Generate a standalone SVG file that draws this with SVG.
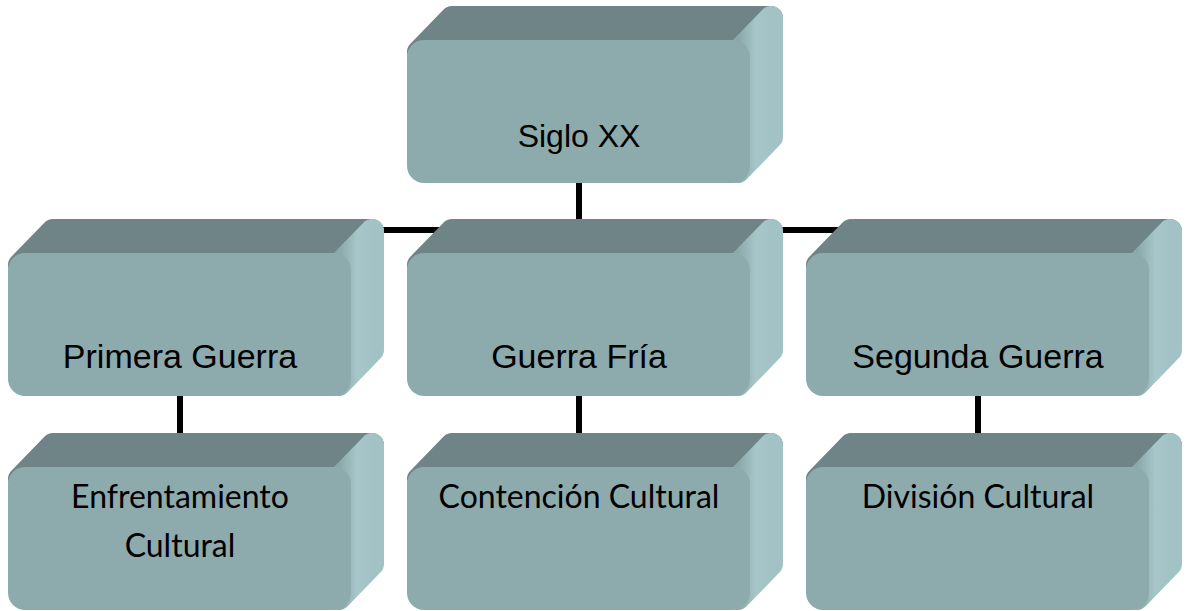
<svg xmlns="http://www.w3.org/2000/svg" width="1189" height="611" viewBox="0 0 1189 611">
<defs>
<style>
.top{fill:#6F8486;stroke:#6F8486;stroke-width:24;stroke-linejoin:round}
.side{fill:url(#sideG);stroke:url(#sideG);stroke-width:24;stroke-linejoin:round}
.front{fill:#8DABAD}
.t1{font-family:"Liberation Sans",Arial,sans-serif;fill:#000;text-anchor:middle}
.t2{font-family:Lato,"Open Sans",sans-serif;fill:#000;text-anchor:middle;font-size:32px}
.conn{stroke:#000;stroke-width:6;fill:none}
</style>
<linearGradient id="sideG" x1="0" y1="0" x2="1" y2="0">
<stop offset="0" stop-color="#8AA8AA"/>
<stop offset="0.55" stop-color="#A7C6C9"/>
<stop offset="1" stop-color="#A3C2C5"/>
</linearGradient>
<g id="box">
<polygon class="top" points="12,12 45,-22 364,-22 331,12"/>
<polygon class="side" points="331,12 364,-22 364,97 331,131"/>
<rect class="front" x="0" y="0" width="343" height="143" rx="17"/>
</g>
</defs>
<g id="connectors">
<line class="conn" x1="579" y1="183" x2="579" y2="230"/>
<line class="conn" x1="180" y1="230" x2="978" y2="230"/>
<line class="conn" x1="180" y1="396" x2="180" y2="467"/>
<line class="conn" x1="579" y1="396" x2="579" y2="467"/>
<line class="conn" x1="978" y1="396" x2="978" y2="467"/>
</g>
<g id="siglo">
<use href="#box" x="407" y="40"/>
<text class="t1" x="579" y="147" font-size="32">Siglo XX</text>
</g>
<g id="primera">
<use href="#box" x="8" y="253"/>
<text class="t1" x="180" y="368" font-size="34">Primera Guerra</text>
</g>
<g id="fria">
<use href="#box" x="407" y="253"/>
<text class="t1" x="579" y="368" font-size="34">Guerra Fría</text>
</g>
<g id="segunda">
<use href="#box" x="806" y="253"/>
<text class="t1" x="978" y="368" font-size="34">Segunda Guerra</text>
</g>
<g id="enfrentamiento">
<use href="#box" x="8" y="467"/>
<text class="t2" x="180" y="508">Enfrentamiento</text>
<text class="t2" x="180" y="557">Cultural</text>
</g>
<g id="contencion">
<use href="#box" x="407" y="467"/>
<text class="t2" x="579" y="508">Contención Cultural</text>
</g>
<g id="division">
<use href="#box" x="806" y="467"/>
<text class="t2" x="978" y="508">División Cultural</text>
</g>
</svg>
